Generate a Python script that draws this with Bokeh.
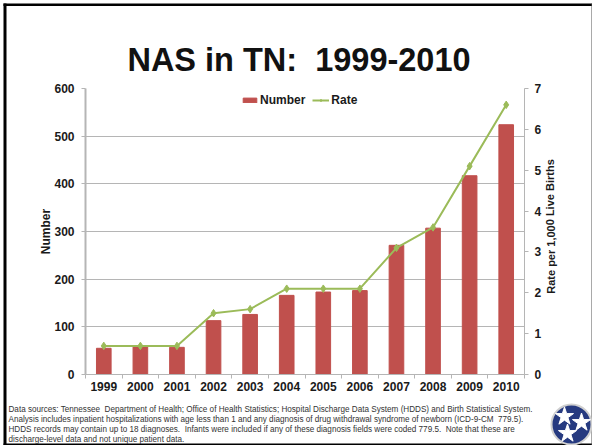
from bokeh.plotting import figure
from bokeh.layouts import column
from bokeh.models import (Range1d, LinearAxis, FixedTicker, NumeralTickFormatter, Legend, LegendItem, Label)
from bokeh.embed import file_html
from bokeh.resources import INLINE

years = [1999, 2000, 2001, 2002, 2003, 2004, 2005, 2006, 2007, 2008, 2009, 2010]
number = [55, 58, 57, 113, 126, 166, 173, 176, 271, 307, 417, 524]
rate = [0.7, 0.7, 0.7, 1.5, 1.6, 2.1, 2.1, 2.1, 3.1, 3.6, 5.1, 6.6]
title_text = "NAS in TN:\u00a0 1999-2010"
left_title = "Number"
right_title = "Rate per 1,000 Live Births"
footnotes = [
    "Data sources: Tennessee\u00a0 Department of Health; Office of Health Statistics; Hospital Discharge Data System (HDDS) and Birth Statistical System.",
    "Analysis includes inpatient hospitalizations with age less than 1 and any diagnosis of drug withdrawal syndrome of newborn (ICD-9-CM\u00a0 779.5).",
    "HDDS records may contain up to 18 diagnoses.\u00a0 Infants were included if any of these diagnosis fields were coded 779.5.\u00a0 Note that these are",
    "discharge-level data and not unique patient data.",
]

W, H = 592, 445
FONT = "Liberation Sans"
GRID = "#b5b5b5"
TXT = "#1a1a1a"

# page layer: a figure whose frame is the whole page, in page pixels
bg = figure(width=W, height=H, output_backend="svg", toolbar_location=None,
            x_range=Range1d(0, W), y_range=Range1d(H, 0), x_axis_location=None, y_axis_location=None,
            min_border=0, background_fill_color="white", border_fill_color="white", frame_align=False)
bg.outline_line_color = None
bg.grid.visible = False
bg.quad(left=[3, 3, 3, 591], right=[592, 6, 592, 592], top=[3, 3, 443, 3], bottom=[5.5, 445, 445, 445],
        color=["#000000", "#000000", "#000000", "#555555"], line_color=None)
bg.add_layout(Label(x=298.5, y=59, text=title_text, text_font=FONT, text_font_style="bold", text_font_size="32.5px",
                    text_color="#111111", text_align="center", text_baseline="middle"))
for i, t in enumerate(footnotes):
    bg.add_layout(Label(x=8, y=408.5 + i * 10, text=t, text_font=FONT, text_font_size="8.15px", text_color="#333333",
                        text_baseline="middle"))
bg.add_layout(Label(x=550, y=226, text=right_title, angle=1.5708, text_font=FONT, text_font_style="bold",
                    text_font_size="11px", text_color=TXT, text_align="center", text_baseline="middle"))
bg.scatter([571], [424], marker="circle", size=40, fill_color="#263a80", line_color="#d0d0d0", line_width=2)
bg.scatter([564, 581, 567], [416, 422, 433], marker="star", size=19, color="white")

p = figure(width=W, height=H, output_backend="svg", toolbar_location=None,
           x_range=Range1d(1998.5, 2010.5), y_range=Range1d(0, 600),
           min_border_left=85, min_border_right=68, min_border_top=88, min_border_bottom=71,
           background_fill_alpha=0, border_fill_alpha=0, margin=(-H, 0, 0, 0), frame_align=False)
p.outline_line_color = None
p.xgrid.visible = False
p.ygrid.grid_line_color = GRID
p.ygrid.grid_line_width = 1
p.ygrid.ticker = FixedTicker(ticks=[100, 200, 300, 400, 500, 600])

p.extra_y_ranges = {"rate": Range1d(0, 7)}
bars = p.vbar(x=years, top=number, width=0.4, color="#c0504d")
line = p.line(years, rate, y_range_name="rate", line_color="#9bbb59", line_width=2)
pts = p.scatter(years, rate, y_range_name="rate", marker="diamond", size=7.5, color="#9bbb59")

def style(ax):
    ax.axis_line_color = GRID
    ax.major_tick_line_color = GRID
    ax.major_tick_out = 4
    ax.major_tick_in = 0
    ax.minor_tick_line_color = None
    ax.major_label_text_font = FONT
    ax.major_label_text_font_style = "bold"
    ax.major_label_text_font_size = "12px"
    ax.major_label_text_color = TXT
    ax.axis_label_text_font = FONT
    ax.axis_label_text_font_style = "bold"
    ax.axis_label_text_font_size = "12px"
    ax.axis_label_text_color = TXT

xa = p.xaxis[0]
style(xa)
xa.ticker = FixedTicker(ticks=years, minor_ticks=[y - 0.5 for y in years] + [years[-1] + 0.5])
xa.formatter = NumeralTickFormatter(format="0")
xa.major_tick_out = 0
xa.minor_tick_line_color = GRID
xa.minor_tick_out = 4
xa.minor_tick_in = 0
xa.major_label_standoff = 3

ya = p.yaxis[0]
style(ya)
ya.axis_line_width = 2
ya.ticker = FixedTicker(ticks=[0, 100, 200, 300, 400, 500, 600])
ya.axis_label = left_title
ya.major_label_standoff = 7
ya.axis_label_standoff = -2

ra = LinearAxis(y_range_name="rate", ticker=FixedTicker(ticks=[0, 1, 2, 3, 4, 5, 6, 7]))
style(ra)
ra.major_label_standoff = 6
p.add_layout(ra, "right")

leg = Legend(items=[LegendItem(label="Number", renderers=[bars]), LegendItem(label="Rate", renderers=[line, pts])],
             orientation="horizontal", location=(156, 267), background_fill_alpha=0, border_line_color=None,
             label_text_font=FONT, label_text_font_style="bold", label_text_font_size="12px",
             label_text_color=TXT, glyph_width=17, glyph_height=6, spacing=7, padding=0, margin=0,
             label_standoff=2)
p.add_layout(leg, "center")

page = column(bg, p)
page.styles = {"position": "absolute", "left": "0px", "top": "0px"}
open("out.html", "w").write(file_html(page, INLINE))
